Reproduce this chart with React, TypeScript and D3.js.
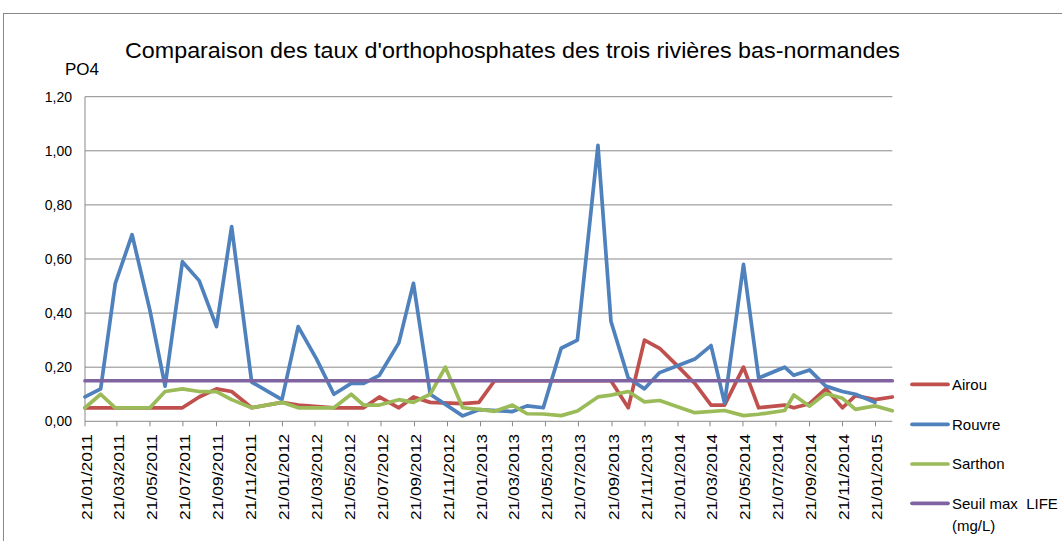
import React from "react";
import * as d3 from "d3";

const sampleDates = [
  "2011-01-21","2011-02-19","2011-03-18","2011-04-18","2011-05-21","2011-06-18","2011-07-20","2011-08-20",
  "2011-09-21","2011-10-19","2011-11-25","2012-01-20","2012-02-19","2012-03-24","2012-04-25","2012-05-27",
  "2012-06-19","2012-07-18","2012-08-23","2012-09-19","2012-10-20","2012-11-17","2012-12-19","2013-01-18",
  "2013-02-16","2013-03-21","2013-04-17","2013-05-17","2013-06-19","2013-07-19","2013-08-26","2013-09-19",
  "2013-10-21","2013-11-20","2013-12-18","2014-01-20","2014-02-21","2014-03-23","2014-04-17","2014-05-22",
  "2014-06-19","2014-08-06","2014-08-23","2014-09-21","2014-10-21","2014-11-21","2014-12-15","2015-01-20",
  "2015-02-21",
];

const airou: (number | null)[] = [
  0.05,0.05,0.05,0.05,0.05,0.05,0.05,0.09,
  0.12,0.11,0.05,0.07,0.06,null,0.05,0.05,
  0.05,0.09,0.05,0.09,0.07,null,0.065,0.07,
  0.15,0.15,0.15,0.15,0.15,0.15,0.15,0.15,
  0.05,0.30,0.27,0.205,0.14,0.06,0.06,0.20,
  0.05,0.06,0.05,0.065,0.12,0.05,0.095,0.08,
  0.09,
];

const rouvre: (number | null)[] = [
  0.09,0.12,0.51,0.69,0.41,0.13,0.59,0.52,
  0.35,0.72,0.145,0.08,0.35,0.23,0.10,0.14,
  0.14,0.17,0.29,0.51,0.10,null,0.02,0.043,
  null,0.036,0.057,0.05,0.27,0.30,1.02,0.37,
  0.16,0.12,0.18,0.205,0.23,0.28,0.067,0.58,
  0.16,0.20,0.17,0.19,0.13,0.11,0.10,0.07,
  null,
];

const sarthon: (number | null)[] = [
  0.05,0.10,0.05,0.05,0.05,0.11,0.12,0.11,
  0.11,0.08,0.05,0.07,0.05,null,0.05,0.10,
  0.06,0.06,0.08,0.07,0.10,0.20,0.05,0.044,
  0.037,0.06,0.028,0.027,0.021,0.038,0.09,0.097,
  0.11,0.072,0.077,null,0.032,null,0.04,0.021,
  0.026,0.04,0.097,0.056,0.103,0.085,0.044,0.057,
  0.039,
];

const seuilValue = 0.15;
const axisStart = "2011-01-21";
const axisEnd = "2015-02-21";

const xTickLabels = [
  "21/01/2011","21/03/2011","21/05/2011","21/07/2011","21/09/2011","21/11/2011",
  "21/01/2012","21/03/2012","21/05/2012","21/07/2012","21/09/2012","21/11/2012",
  "21/01/2013","21/03/2013","21/05/2013","21/07/2013","21/09/2013","21/11/2013",
  "21/01/2014","21/03/2014","21/05/2014","21/07/2014","21/09/2014","21/11/2014",
  "21/01/2015",
];
const yTicks = [0, 0.2, 0.4, 0.6, 0.8, 1.0, 1.2];

const seriesNames = ["Airou", "Rouvre", "Sarthon", "Seuil max  LIFE"];
const colors = ["#C0504D", "#4F81BD", "#9BBB59", "#8064A2"];

const parseISO = d3.utcParse("%Y-%m-%d");
const parseFR = d3.utcParse("%d/%m/%Y");

export default function App() {
  const x = d3.scaleUtc()
    .domain([parseISO(axisStart)!, parseISO(axisEnd)!])
    .range([85, 892.3]);
  const y = d3.scaleLinear().domain([0, 1.2]).range([421.3, 96.7]);
  const fmt = d3.format(".2f");

  const toPts = (vals: (number | null)[]) =>
    vals
      .map((v, i) => (v == null ? null : ([parseISO(sampleDates[i])!, v] as [Date, number])))
      .filter((p): p is [Date, number] => p !== null);

  const line = d3.line<[Date, number]>()
    .x((d) => x(d[0]))
    .y((d) => y(d[1]));

  const seuilPts: [Date, number][] = [
    [parseISO(axisStart)!, seuilValue],
    [parseISO(axisEnd)!, seuilValue],
  ];
  const paths = [toPts(airou), toPts(rouvre), toPts(sarthon), seuilPts];

  const font = "'Liberation Sans', Arial, sans-serif";
  const legendY = [384.3, 424.3, 464, 503.3];

  return (
    <svg width={1062} height={541} style={{ position: "absolute", left: 0, top: 0, background: "#fff" }}>
      <rect x={3.5} y={13.5} width={1070} height={540} fill="#fff" stroke="#888" strokeWidth={1} />
      <text x={125} y={58} fontFamily={font} fontSize={22} textLength={775} lengthAdjust="spacingAndGlyphs" fill="#000">
        Comparaison des taux d'orthophosphates des trois rivières bas-normandes
      </text>
      <text x={65} y={75} fontFamily={font} fontSize={17} fill="#000">PO4</text>

      {yTicks.map((t) => (
        <g key={t}>
          {t > 0 && (
            <line x1={85} x2={892.3} y1={y(t)} y2={y(t)} stroke="#898989" strokeWidth={1} />
          )}
          <text x={72} y={y(t)} dy="0.35em" textAnchor="end" fontFamily={font} fontSize={14} fill="#000">
            {fmt(t).replace(".", ",")}
          </text>
        </g>
      ))}
      <line x1={85} x2={85} y1={y(1.2)} y2={y(0)} stroke="#898989" strokeWidth={1} />
      <line x1={85} x2={892.3} y1={y(0)} y2={y(0)} stroke="#898989" strokeWidth={1} />

      {xTickLabels.map((lab) => {
        const xp = x(parseFR(lab)!);
        return (
          <g key={lab}>
            <line x1={xp} x2={xp} y1={y(0)} y2={y(0) + 5} stroke="#898989" strokeWidth={1} />
            <text
              transform={`translate(${xp + 1.5},434) rotate(-90)`}
              textAnchor="end"
              dy="0.35em"
              fontFamily={font}
              fontSize={15}
              textLength={86}
              lengthAdjust="spacingAndGlyphs"
              fill="#000"
            >
              {lab}
            </text>
          </g>
        );
      })}

      {paths.map((p, i) => (
        <path key={i} d={line(p) ?? ""} fill="none" stroke={colors[i]} strokeWidth={3.7} strokeLinejoin="round" strokeLinecap="round" />
      ))}

      {seriesNames.map((n, i) => (
        <g key={n}>
          <line x1={912} x2={948} y1={legendY[i]} y2={legendY[i]} stroke={colors[i]} strokeWidth={3.7} strokeLinecap="round" />
          <text x={952} y={legendY[i]} dy="0.35em" fontFamily={font} fontSize={15} fill="#000" style={{ whiteSpace: "pre" }}>{n}</text>
        </g>
      ))}
      <text x={952} y={525.7} dy="0.35em" fontFamily={font} fontSize={15} fill="#000">(mg/L)</text>
    </svg>
  );
}
